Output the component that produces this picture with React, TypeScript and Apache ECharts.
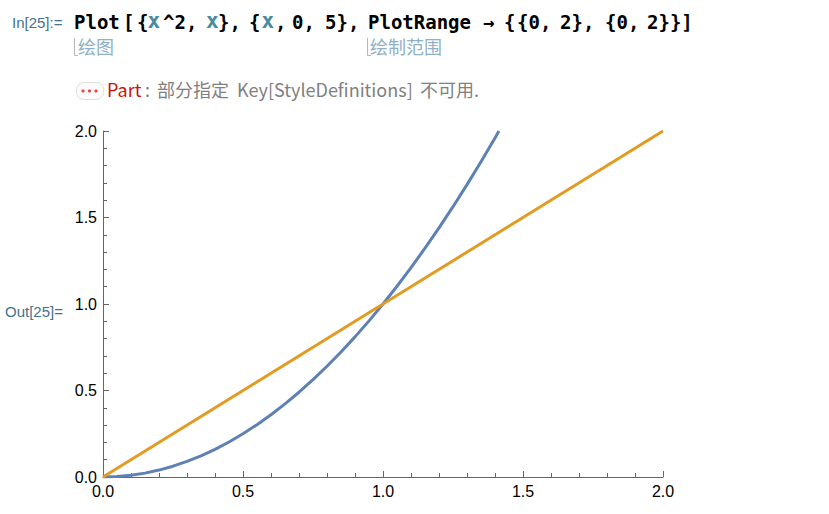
import React, { useEffect, useRef } from "react";
import * as echarts from "echarts";

const curveX = [0, 0.05, 0.1, 0.15, 0.2, 0.25, 0.3, 0.35, 0.4, 0.45, 0.5, 0.55, 0.6, 0.65, 0.7, 0.75, 0.8, 0.85, 0.9, 0.95, 1.0, 1.05, 1.1, 1.15, 1.2, 1.25, 1.3, 1.35, 1.4, 1.414];
const curveY = [0, 0.0025, 0.01, 0.0225, 0.04, 0.0625, 0.09, 0.1225, 0.16, 0.2025, 0.25, 0.3025, 0.36, 0.4225, 0.49, 0.5625, 0.64, 0.7225, 0.81, 0.9025, 1.0, 1.1025, 1.21, 1.3225, 1.44, 1.5625, 1.69, 1.8225, 1.96, 2.0];
const lineX = [0, 1, 2];
const lineY = [0, 1, 2];
const inLabel = "In[25]:=";
const outLabel = "Out[25]=";
const hintLeft = "绘图";
const hintRight = "绘制范围";
const msgHead = "Part";
const msgColon = ":";
const msgCn = "部分指定";
const msgKey = "Key[StyleDefinitions]";
const msgEnd = "不可用.";

const codeTexts = ["Plot", "[", "{", "x", "^2,", "x", "},", "{", "x", ",", "0,", "5},", "PlotRange", "→", "{", "{0,", "2},", "{0,", "2}}]"];
const codeLefts = [74, 123, 137, 147.5, 163, 206, 218, 249, 261.5, 275, 292, 325, 368, 483, 504, 517, 560, 605, 647];
const codeVars = [false, false, false, true, false, true, false, false, true, false, false, false, false, false, false, false, false, false, false];

const zip = (a: number[], b: number[]) => a.map((v, i) => [v, b[i]]);
const MONO = "'DejaVu Sans Mono'";
const CJK = "'Noto Sans CJK SC','Noto Sans'";
const ARIAL = "'Liberation Sans'";

const axisCommon = {
  type: "value",
  min: 0,
  max: 2,
  interval: 0.5,
  splitLine: { show: false },
  minorSplitLine: { show: false },
  axisLine: { show: true, lineStyle: { color: "#666666", width: 1 } },
  axisTick: { show: true, inside: true, length: 6, lineStyle: { color: "#666666", width: 1 } },
  minorTick: { show: true, splitNumber: 5, length: 4, lineStyle: { color: "#666666", width: 1 } },
};

const labelStyle = {
  color: "#000000",
  fontFamily: ARIAL,
  fontSize: 16,
  formatter: (v: number) => v.toFixed(1),
  showMinLabel: true,
  showMaxLabel: true,
  hideOverlap: false,
};

export default function App() {
  const ref = useRef<HTMLDivElement>(null);
  useEffect(() => {
    const chart = echarts.init(ref.current!, undefined, { renderer: "svg", width: 829, height: 514 });
    chart.setOption({
      animation: false,
      backgroundColor: "#ffffff",
      grid: { left: 103, right: 166, top: 131, bottom: 37, containLabel: false },
      xAxis: { ...axisCommon, axisLabel: { ...labelStyle, margin: 6 } },
      yAxis: { ...axisCommon, axisLabel: { ...labelStyle, margin: 6 } },
      series: [
        {
          type: "line",
          data: zip(curveX, curveY),
          symbol: "none",
          smooth: false,
          clip: true,
          lineStyle: { color: "#5E81B5", width: 3 },
        },
        {
          type: "line",
          data: zip(lineX, lineY),
          symbol: "none",
          smooth: false,
          clip: true,
          lineStyle: { color: "#E19C24", width: 3 },
        },
      ],
      graphic: [
        { type: "text", x: 12, y: 15, style: { text: inLabel, fontFamily: ARIAL, fontSize: 15, fill: "#44708f" } },
        { type: "text", x: 5, y: 304, style: { text: outLabel, fontFamily: ARIAL, fontSize: 15, fill: "#44708f" } },
        ...codeTexts.map((t, i) => ({
          type: "text",
          x: codeLefts[i],
          y: codeVars[i] ? 10 : 12,
          style: {
            text: t,
            fontFamily: MONO,
            fontWeight: "bold",
            fontSize: codeVars[i] ? 21 : 19,
            fill: codeVars[i] ? "#4a8a9e" : "#000000",
          },
        })),
        { type: "polyline", shape: { points: [[74.5, 38], [74.5, 55.5], [78, 55.5]] }, style: { stroke: "#b8b8b8", fill: "none", lineWidth: 1 } },
        { type: "text", x: 78, y: 37, style: { text: hintLeft, fontFamily: CJK, fontSize: 18, fill: "#8fb0c5" } },
        { type: "polyline", shape: { points: [[367.5, 38], [367.5, 55.5], [371, 55.5]] }, style: { stroke: "#b8b8b8", fill: "none", lineWidth: 1 } },
        { type: "text", x: 370, y: 37, style: { text: hintRight, fontFamily: CJK, fontSize: 18, fill: "#8fb0c5" } },
        { type: "rect", shape: { x: 76.5, y: 82.5, width: 27, height: 17, r: 7 }, style: { fill: "#fbfbfb", stroke: "#dddddd", lineWidth: 1 } },
        { type: "circle", shape: { cx: 83, cy: 91, r: 1.6 }, style: { fill: "#f04545" } },
        { type: "circle", shape: { cx: 89.5, cy: 91, r: 1.6 }, style: { fill: "#f04545" } },
        { type: "circle", shape: { cx: 96, cy: 91, r: 1.6 }, style: { fill: "#f04545" } },
        { type: "text", x: 107, y: 80, style: { text: msgHead, fontFamily: CJK, fontSize: 18, fill: "#cc1408" } },
        { type: "text", x: 145, y: 80, style: { text: msgColon, fontFamily: CJK, fontSize: 18, fill: "#808080" } },
        { type: "text", x: 157, y: 80, style: { text: msgCn, fontFamily: CJK, fontSize: 18, fill: "#808080" } },
        { type: "text", x: 237, y: 80, style: { text: msgKey, fontFamily: CJK, fontSize: 18, fill: "#808080" } },
        { type: "text", x: 420, y: 80, style: { text: msgEnd, fontFamily: CJK, fontSize: 18, fill: "#808080" } },
      ],
    });
    return () => chart.dispose();
  }, []);
  return <div ref={ref} style={{ position: "fixed", left: 0, top: 0, width: 829, height: 514 }} />;
}
